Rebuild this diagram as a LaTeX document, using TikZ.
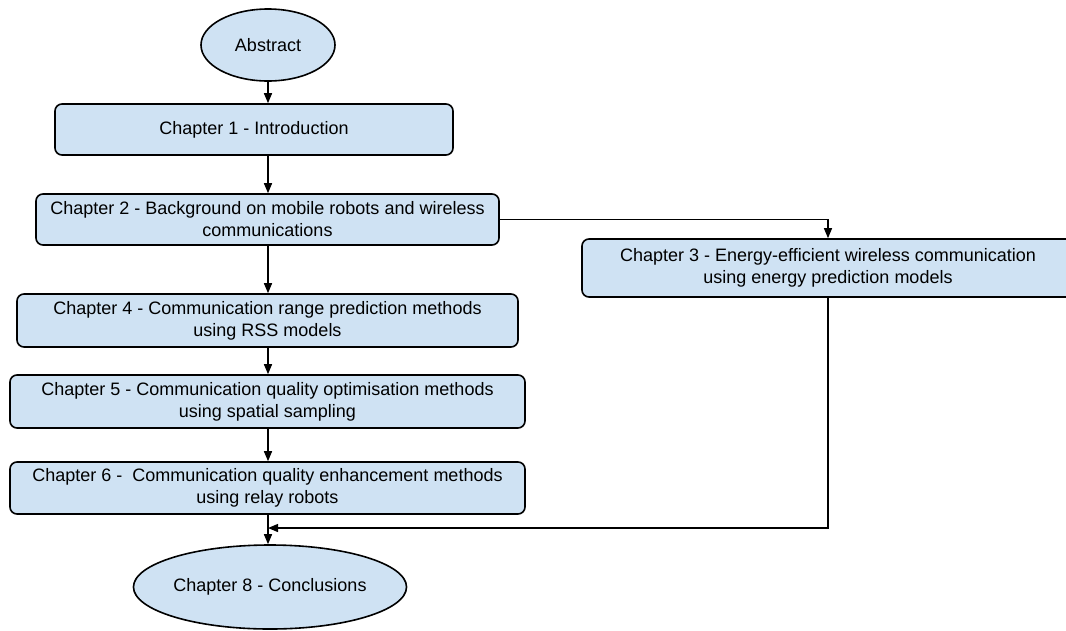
\documentclass[tikz,border=0pt]{standalone}
\usepackage{fontspec}
\setmainfont{Liberation Sans}
\usetikzlibrary{arrows.meta,shapes.geometric}

\definecolor{chapblue}{RGB}{207,226,243}

\begin{document}
\begin{tikzpicture}[x=1pt, y=-1pt,
  chapbox/.style={draw=black, line width=1.6pt, fill=chapblue, rounded corners=7pt,
    align=center, font=\fontsize{18}{22}\selectfont, inner sep=0pt},
  chapoval/.style={draw=black, line width=1.6pt, fill=chapblue, ellipse,
    inner sep=0pt, font=\fontsize{18}{22}\selectfont},
  flow/.style={line width=1.5pt, -{Triangle[length=10pt,width=8pt]}},
  sideflow/.style={line width=1.2pt, -{Triangle[length=10pt,width=8pt]}}]
\clip (0,0) rectangle (1066,630);
\useasboundingbox (0,0) rectangle (1066,630);

% Start and end
\node[chapoval, minimum width=134pt, minimum height=72pt] (abstract) at (268,45) {Abstract};
\node[chapoval, minimum width=270pt, minimum height=84pt] (ch8) at (270,587) {Chapter 8 - Conclusions};

% Chapters, left column
\node[chapbox, minimum width=398pt, minimum height=51pt] (ch1) at (254,129.5) {Chapter 1 - Introduction};
\node[chapbox, minimum width=463pt, minimum height=51pt] (ch2) at (267.5,219.5)
  {Chapter 2 - Background on mobile robots and wireless\\communications};
\node[chapbox, minimum width=501pt, minimum height=53pt] (ch4) at (267.5,320.5)
  {Chapter 4 - Communication range prediction methods\\using RSS models};
\node[chapbox, minimum width=515pt, minimum height=53pt] (ch5) at (267.5,401.5)
  {Chapter 5 - Communication quality optimisation methods\\using spatial sampling};
\node[chapbox, minimum width=515pt, minimum height=52pt] (ch6) at (267.5,488)
  {Chapter 6 -\ \ Communication quality enhancement methods\\using relay robots};

% Chapter 3, right column
\node[chapbox, minimum width=492pt, minimum height=58pt] (ch3) at (828,268)
  {Chapter 3 - Energy-efficient wireless communication\\using energy prediction models};

% Connectors
\coordinate (join) at (268,528);
\draw[flow] (abstract.south) -- (ch1.north -| abstract.south);
\draw[flow] (ch1.south -| abstract.south) -- (ch2.north -| abstract.south);
\draw[flow] (ch2.south -| abstract.south) -- (ch4.north -| abstract.south);
\draw[flow] (ch4.south -| abstract.south) -- (ch5.north -| abstract.south);
\draw[flow] (ch5.south -| abstract.south) -- (ch6.north -| abstract.south);
\draw[flow] (ch6.south -| abstract.south) -- (ch8.north -| abstract.south);
\draw[sideflow] (ch2.east) -| (ch3.north);
\draw[sideflow] (ch3.south) |- (join);
\end{tikzpicture}
\end{document}
